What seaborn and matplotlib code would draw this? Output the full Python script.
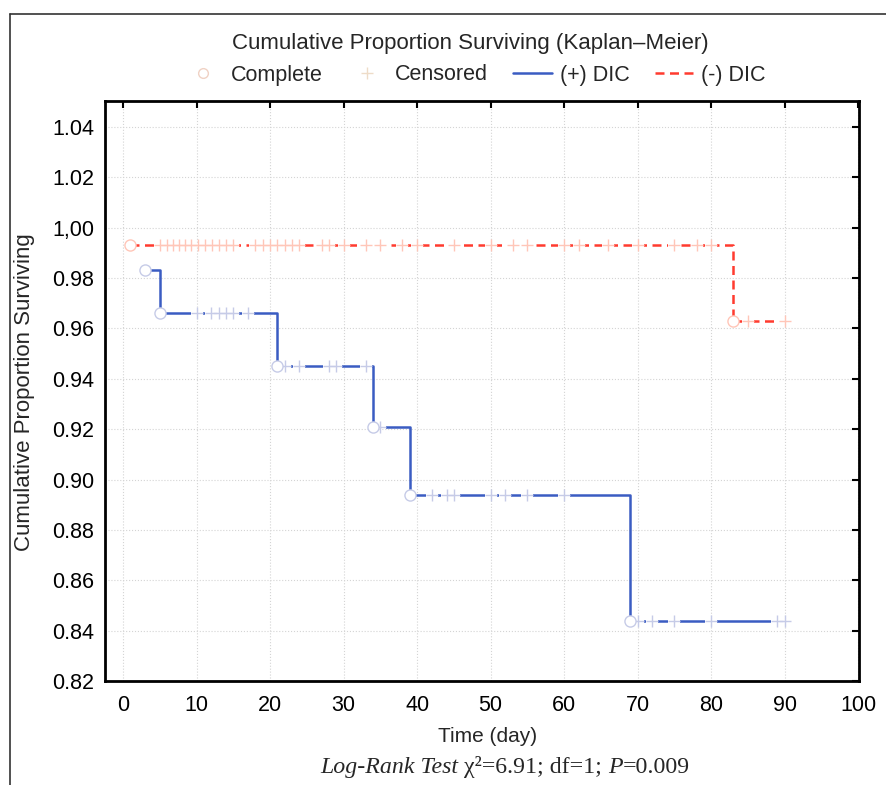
import numpy as np
import pandas as pd
import matplotlib
matplotlib.use('Agg')
import matplotlib.pyplot as plt
from matplotlib.lines import Line2D
import seaborn as sns

# (+) DIC group: event days, survival after each event, censored days
pos_event_days = [3, 5, 21, 34, 39, 69]
pos_survival = [0.983, 0.966, 0.945, 0.921, 0.894, 0.844]
pos_censored_days = [10, 12, 13, 14, 15, 17, 22, 24, 28, 29, 33, 35,
                     42, 44, 45, 50, 52, 55, 60, 70, 72, 75, 80, 89, 90]

# (-) DIC group
neg_event_days = [1, 83]
neg_survival = [0.993, 0.963]
neg_censored_days = [5, 6, 6.8, 7.6, 8.4, 9.2, 10.2, 11.2, 12.1, 13, 14, 15,
                     18, 19, 20, 21, 22, 23, 24, 27, 28, 30, 33, 35, 38, 40,
                     45, 50, 53, 55, 60, 62, 66, 70, 75, 78, 80, 85, 90]

x_ticks = list(range(0, 101, 10))
y_ticks = [0.82, 0.84, 0.86, 0.88, 0.90, 0.92, 0.94, 0.96, 0.98, 1.00, 1.02, 1.04]
y_tick_labels = ['0.82', '0.84', '0.86', '0.88', '0.90', '0.92', '0.94',
                 '0.96', '0.98', '1,00', '1.02', '1.04']

title = 'Cumulative Proportion Surviving (Kaplan\u2013Meier)'
test_parts = [('Log-Rank Test ', 'italic'), ('\u03c7\u00b2=6.91; df=1; ', 'normal'),
              ('P', 'italic'), ('=0.009', 'normal')]

BLUE = '#3a5cc2'
RED = '#ff3b2f'
BLUE_LIGHT = '#c6cbe7'
RED_LIGHT = '#ffc6b8'


def km_step_frame(event_days, survival, censored_days):
    end = max(censored_days)
    return pd.DataFrame({'Time': event_days + [end],
                         'Survival': survival + [survival[-1]]})


def censored_frame(event_days, survival, censored_days):
    idx = np.searchsorted(event_days, censored_days, side='right') - 1
    return pd.DataFrame({'Time': censored_days,
                         'Survival': np.array(survival)[idx]})


sns.set_style('white')
plt.rcParams['font.family'] = ['Liberation Sans', 'DejaVu Sans']

fig = plt.figure(figsize=(8.86, 7.85), dpi=100)
ax = fig.add_axes([105 / 886, 1 - 681 / 785, (859 - 105) / 886, (681 - 101) / 785])

groups = [
    (pos_event_days, pos_survival, pos_censored_days, BLUE, BLUE_LIGHT, '-'),
    (neg_event_days, neg_survival, neg_censored_days, RED, RED_LIGHT, (0, (3.6, 2.2))),
]

for events, surv, cens, color, light, ls in groups:
    steps = km_step_frame(events, surv, cens)
    sns.lineplot(data=steps, x='Time', y='Survival', drawstyle='steps-post',
                 color=color, lw=1.8, linestyle=ls, errorbar=None, ax=ax, zorder=3)
    cdf = censored_frame(events, surv, cens)
    # white gap under each censor mark, then the light "+" on top
    ax.plot(cdf['Time'], cdf['Survival'], ls='none', marker='_', ms=9,
            mew=3, color='white', zorder=4)
    ax.plot(cdf['Time'], cdf['Survival'], ls='none', marker='+', ms=9,
            mew=1, color=light, zorder=5)
    ax.plot(events, surv, ls='none', marker='o', ms=8, mfc='white',
            mec=light, mew=1, zorder=6)

ax.set_xlim(-2.45, 100.1)
ax.set_ylim(0.82, 1.0503)
ax.set_xticks(x_ticks)
ax.set_yticks(y_ticks)
ax.set_yticklabels(y_tick_labels)
ax.tick_params(direction='in', length=5, width=1.5, top=True, right=True,
               labelsize=15.5, pad=8, colors='black')
ax.tick_params(axis='x', pad=10)
ax.grid(True, linestyle=':', color='#d4d4d4', lw=0.8)
ax.set_axisbelow(True)
for sp in ax.spines.values():
    sp.set_color('black')
    sp.set_linewidth(2)

ax.set_xlabel('Time (day)', size=15)
ax.xaxis.set_label_coords((488 - 105) / 754, (681 - 737) / 580)
ax.xaxis.label.set_va('center')
ax.set_ylabel('Cumulative Proportion Surviving', size=16)
ax.yaxis.set_label_coords((25 - 105) / 754, (681 - 392) / 580)
ax.yaxis.label.set_va('center')

fig.text(470 / 886, 1 - 43 / 785, title, ha='center', va='center', size=16)

handles = [
    Line2D([], [], ls='none', marker='o', ms=7, mfc='white', mec='#f0d2c4', mew=1),
    Line2D([], [], ls='none', marker='+', ms=9, mew=1, color='#eedcc8'),
    Line2D([], [], color=BLUE, lw=1.8),
    Line2D([], [], color=RED, lw=1.8, ls=(0, (3.6, 2.2))),
]
labels = ['Complete', 'Censored', '(+) DIC', '(-) DIC']
fig.legend(handles, labels, loc='center', bbox_to_anchor=(475 / 886, 1 - 75 / 785),
           ncol=4, frameon=False, fontsize=15.5, handlelength=1.8,
           handletextpad=0.35, columnspacing=1.2)

# log-rank test line, pieces chained left to right
prev = fig.text(320 / 886, 1 - 773 / 785, test_parts[0][0], family='Liberation Serif',
                style=test_parts[0][1], size=17.2, va='baseline')
for txt, st in test_parts[1:]:
    prev = ax.annotate(txt, xy=(1, 0), xycoords=prev, va='bottom', ha='left',
                       family='Liberation Serif', style=st, size=17.2,
                       annotation_clip=False)

# outer frame (left and top edges)
fig.add_artist(Line2D([9.5 / 886, 9.5 / 886], [0, 1 - 14 / 785],
                      transform=fig.transFigure, color='#333333', lw=1.2))
fig.add_artist(Line2D([9.5 / 886, 1], [1 - 14 / 785, 1 - 14 / 785],
                      transform=fig.transFigure, color='#333333', lw=1.2))

fig.savefig('out.png', dpi=100)
